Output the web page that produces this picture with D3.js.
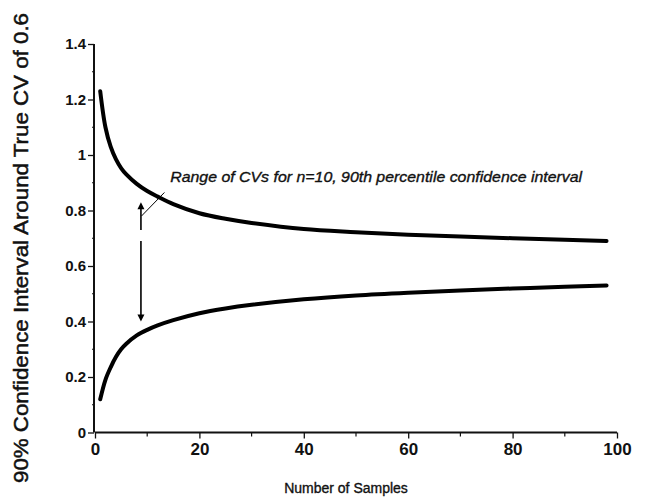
<!DOCTYPE html>
<html>
<head>
<meta charset="utf-8">
<script src="https://cdn.jsdelivr.net/npm/d3@7"></script>
<style>
  html, body { margin: 0; padding: 0; background: #fff; }
  svg { display: block; }
  text { font-family: "Liberation Sans", Arial, Helvetica, sans-serif; fill: #111; }
</style>
</head>
<body>
<svg id="chart" width="646" height="497"></svg>
<script>
// ---- data ----
const samples = [1, 2, 3, 4, 5, 6, 8, 10, 12, 15, 20, 25, 30, 40, 50, 60, 70, 80, 90, 98];
const upperCV = [1.23, 1.10, 1.03, 0.985, 0.953, 0.93, 0.896, 0.87, 0.85, 0.823, 0.79, 0.77, 0.755, 0.733, 0.722, 0.713, 0.706, 0.70, 0.695, 0.69];
const lowerCV = [0.12, 0.19, 0.235, 0.272, 0.30, 0.32, 0.35, 0.37, 0.386, 0.405, 0.43, 0.447, 0.46, 0.48, 0.494, 0.504, 0.512, 0.519, 0.525, 0.53];
const xTicks = [0, 20, 40, 60, 80, 100];
const xMinorTicks = [10, 30, 50, 70, 90];
const yTicks = [0, 0.2, 0.4, 0.6, 0.8, 1, 1.2, 1.4];
const yTickLabels = ["0", "0.2", "0.4", "0.6", "0.8", "1", "1.2", "1.4"];
const yMinorTicks = [0.1, 0.3, 0.5, 0.7, 0.9, 1.1, 1.3];
const annotationText = "Range of CVs for n=10, 90th percentile confidence interval";
const arrowAt = { n: 8.8, top: 0.83, bottom: 0.40, gapTop: 0.73, gapBottom: 0.69 };
const leader = { n1: 8.9, v1: 0.78, n2: 13.3, v2: 0.865 };
const textAnchor = { n: 14.4, v: 0.903 };

const svg = d3.select("#chart");
const x = d3.scaleLinear().domain([0, 100]).range([95, 617]);
const y = d3.scaleLinear().domain([0, 1.4]).range([432.5, 44]);

const g = svg.append("g");

// x axis
const xAxis = d3.axisBottom(x).tickValues(xTicks).tickSize(6).tickPadding(4).tickFormat(d3.format("d"));
const xg = g.append("g").attr("transform", `translate(0,${y(0)})`).call(xAxis);
xg.select(".domain").attr("stroke", "#111").attr("stroke-width", 2).attr("d", `M${x(0)},0H${x(100)}`);
xg.selectAll(".tick line").attr("stroke", "#111").attr("stroke-width", 1.3);
xg.selectAll(".tick text").attr("font-size", 17).attr("font-weight", "bold").attr("fill", "#111")
  .attr("font-family", "'Liberation Sans', Arial, sans-serif");
g.append("g").selectAll("line").data(xMinorTicks).join("line")
  .attr("x1", d => x(d)).attr("x2", d => x(d))
  .attr("y1", y(0)).attr("y2", y(0) + 4)
  .attr("stroke", "#111").attr("stroke-width", 1.2);

// y axis
const yAxis = d3.axisLeft(y).tickValues(yTicks).tickSize(6).tickPadding(2)
  .tickFormat((d, i) => yTickLabels[i]);
const yg = g.append("g").attr("transform", `translate(${x(0) - 1},0)`).call(yAxis);
yg.select(".domain").attr("stroke", "#111").attr("stroke-width", 2).attr("d", `M0,${y(0)}V${y(1.4)}`);
yg.selectAll(".tick line").attr("stroke", "#111").attr("stroke-width", 1.3);
yg.selectAll(".tick text").attr("font-size", 15).attr("font-weight", "bold").attr("fill", "#111")
  .attr("font-family", "'Liberation Sans', Arial, sans-serif");
g.append("g").selectAll("line").data(yMinorTicks).join("line")
  .attr("x1", x(0) - 3).attr("x2", x(0) - 1)
  .attr("y1", d => y(d)).attr("y2", d => y(d))
  .attr("stroke", "#111").attr("stroke-width", 1.2);

// curves
const line = d3.line().x(d => x(d[0])).y(d => y(d[1])).curve(d3.curveCatmullRom.alpha(0.5));
[upperCV, lowerCV].forEach(vals => {
  g.append("path")
    .datum(samples.map((n, i) => [n, vals[i]]))
    .attr("d", line)
    .attr("fill", "none")
    .attr("stroke", "#000")
    .attr("stroke-width", 4)
    .attr("stroke-linecap", "round");
});

// double arrow (broken in the middle)
const ax = x(arrowAt.n);
g.append("line").attr("x1", ax).attr("x2", ax).attr("y1", y(arrowAt.top) + 4).attr("y2", y(arrowAt.gapTop))
  .attr("stroke", "#000").attr("stroke-width", 1.6);
g.append("line").attr("x1", ax).attr("x2", ax).attr("y1", y(arrowAt.gapBottom)).attr("y2", y(arrowAt.bottom) - 4)
  .attr("stroke", "#000").attr("stroke-width", 1.6);
g.append("path").attr("d", `M${ax},${y(arrowAt.top)} l-3.5,7 h7 z`).attr("fill", "#000");
g.append("path").attr("d", `M${ax},${y(arrowAt.bottom)} l-3.5,-7 h7 z`).attr("fill", "#000");

// leader line
g.append("line")
  .attr("x1", x(leader.n1)).attr("y1", y(leader.v1))
  .attr("x2", x(leader.n2)).attr("y2", y(leader.v2))
  .attr("stroke", "#000").attr("stroke-width", 1);

// annotation
g.append("text")
  .attr("x", x(textAnchor.n)).attr("y", y(textAnchor.v))
  .attr("font-size", 15).attr("font-style", "italic")
  .attr("stroke", "#111").attr("stroke-width", 0.35)
  .attr("textLength", 412).attr("lengthAdjust", "spacingAndGlyphs")
  .text(annotationText);

// axis titles
g.append("text")
  .attr("transform", `translate(28,${248}) rotate(-90)`)
  .attr("text-anchor", "middle")
  .attr("font-size", 21)
  .attr("stroke", "#111").attr("stroke-width", 0.5)
  .attr("textLength", 470).attr("lengthAdjust", "spacingAndGlyphs")
  .text("90% Confidence Interval Around True CV of 0.6");

g.append("text")
  .attr("x", 346).attr("y", 493)
  .attr("text-anchor", "middle")
  .attr("font-size", 14)
  .attr("stroke", "#111").attr("stroke-width", 0.35)
  .text("Number of Samples");
</script>
</body>
</html>
